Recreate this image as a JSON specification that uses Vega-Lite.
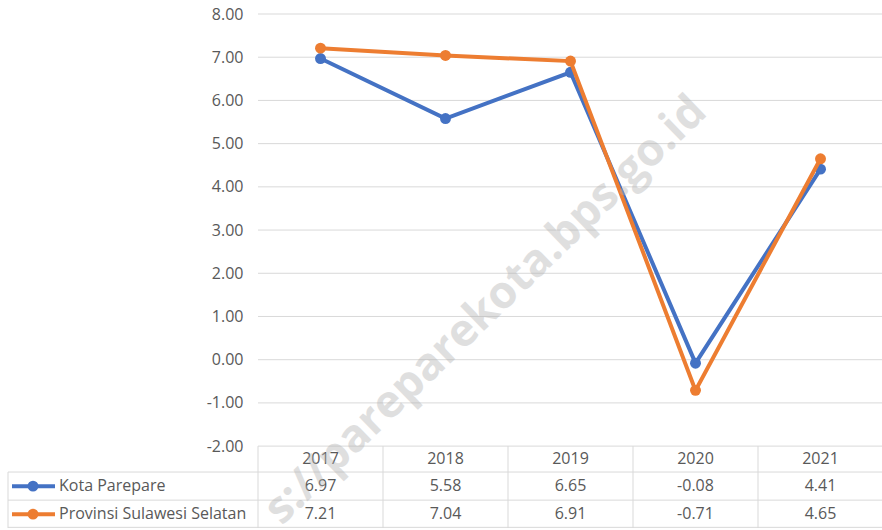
{
  "$schema": "https://vega.github.io/schema/vega-lite/v6.json",
  "width": 875,
  "height": 514,
  "autosize": {"type": "none"},
  "padding": {"left": 8, "top": 14, "right": 0, "bottom": 2},
  "background": "white",
  "config": {
    "view": {"stroke": null},
    "locale": {"number": {"decimal": ".", "thousands": ",", "grouping": [3], "currency": ["", ""], "minus": "-"}},
    "text": {"font": "Open Sans", "fontSize": 16, "color": "#595959"}
  },
  "datasets": {
    "series": [
      {"year": "2017", "series": "Kota Parepare", "value": 6.97},
      {"year": "2018", "series": "Kota Parepare", "value": 5.58},
      {"year": "2019", "series": "Kota Parepare", "value": 6.65},
      {"year": "2020", "series": "Kota Parepare", "value": -0.08},
      {"year": "2021", "series": "Kota Parepare", "value": 4.41},
      {"year": "2017", "series": "Provinsi Sulawesi Selatan", "value": 7.21},
      {"year": "2018", "series": "Provinsi Sulawesi Selatan", "value": 7.04},
      {"year": "2019", "series": "Provinsi Sulawesi Selatan", "value": 6.91},
      {"year": "2020", "series": "Provinsi Sulawesi Selatan", "value": -0.71},
      {"year": "2021", "series": "Provinsi Sulawesi Selatan", "value": 4.65}
    ],
    "grid": [{"g": 8}, {"g": 7}, {"g": 6}, {"g": 5}, {"g": 4}, {"g": 3}, {"g": 2}, {"g": 1}, {"g": 0}, {"g": -1}, {"g": -2}],
    "one": [{}]
  },
  "data": {"name": "series"},
  "encoding": {
    "x": {"field": "year", "type": "nominal", "axis": null,
      "scale": {"type": "band", "domain": ["L1", "L2", "2017", "2018", "2019", "2020", "2021"], "paddingInner": 0, "paddingOuter": 0}}
  },
  "layer": [
    {
      "data": {"name": "grid"},
      "mark": {"type": "rule", "color": "#d9d9d9", "strokeWidth": 1},
      "encoding": {
        "x": {"datum": "2017", "bandPosition": 0},
        "x2": {"datum": "2021", "bandPosition": 1},
        "y": {"field": "g", "type": "quantitative",
          "scale": {"domain": [-3.895, 8], "nice": false, "zero": false},
          "axis": {"orient": "left", "offset": -250, "values": [8, 7, 6, 5, 4, 3, 2, 1, 0, -1, -2], "format": ".2f",
            "ticks": false, "domain": false, "grid": false, "title": null, "labelPadding": 15,
            "labelFont": "Open Sans", "labelFontSize": 16, "labelColor": "#595959"}}
      }
    },
    {
      "data": {"name": "one"},
      "mark": {"type": "rule", "color": "#d9d9d9", "strokeWidth": 1},
      "encoding": {"x": {"datum": "L1", "bandPosition": 0}, "x2": {"datum": "2021", "bandPosition": 1}, "y": {"datum": -2.6}}
    },
    {
      "data": {"name": "one"},
      "mark": {"type": "rule", "color": "#d9d9d9", "strokeWidth": 1},
      "encoding": {"x": {"datum": "L1", "bandPosition": 0}, "x2": {"datum": "2021", "bandPosition": 1}, "y": {"datum": -3.25}}
    },
    {
      "data": {"name": "one"},
      "mark": {"type": "rule", "color": "#d9d9d9", "strokeWidth": 1},
      "encoding": {"x": {"datum": "L1", "bandPosition": 0}, "x2": {"datum": "2021", "bandPosition": 1}, "y": {"datum": -3.88}}
    },
    {
      "data": {"name": "one"},
      "mark": {"type": "rule", "color": "#d9d9d9", "strokeWidth": 1},
      "encoding": {"x": {"datum": "L1", "bandPosition": 0}, "y": {"datum": -2.6}, "y2": {"datum": -3.895}}
    },
    {
      "transform": [{"filter": "datum.series == 'Kota Parepare'"}],
      "mark": {"type": "rule", "color": "#d9d9d9", "strokeWidth": 1},
      "encoding": {"x": {"field": "year", "type": "nominal", "bandPosition": 0}, "y": {"datum": -2}, "y2": {"datum": -3.895}}
    },
    {
      "data": {"name": "one"},
      "mark": {"type": "rule", "color": "#d9d9d9", "strokeWidth": 1},
      "encoding": {"x": {"datum": "2021", "bandPosition": 1}, "y": {"datum": -2}, "y2": {"datum": -3.895}}
    },
    {
      "transform": [{"filter": "datum.series == 'Kota Parepare'"}],
      "mark": {"type": "line", "strokeWidth": 4, "point": {"filled": true, "size": 120, "opacity": 1}},
      "encoding": {
        "y": {"field": "value", "type": "quantitative"},
        "color": {"field": "series", "type": "nominal", "legend": null,
          "scale": {"domain": ["Kota Parepare", "Provinsi Sulawesi Selatan"], "range": ["#4472C4", "#ED7D31"]}}
      }
    },
    {
      "transform": [{"filter": "datum.series == 'Provinsi Sulawesi Selatan'"}],
      "mark": {"type": "line", "strokeWidth": 4, "point": {"filled": true, "size": 120, "opacity": 1}},
      "encoding": {
        "y": {"field": "value", "type": "quantitative"},
        "color": {"field": "series", "type": "nominal", "legend": null}
      }
    },
    {
      "transform": [{"filter": "datum.series == 'Kota Parepare'"}],
      "mark": {"type": "text", "baseline": "middle", "align": "center"},
      "encoding": {"y": {"datum": -2.3}, "text": {"field": "year"}}
    },
    {
      "transform": [{"filter": "datum.series == 'Kota Parepare'"}],
      "mark": {"type": "text", "baseline": "middle", "align": "center"},
      "encoding": {"y": {"datum": -2.926}, "text": {"field": "value", "type": "quantitative", "format": ".2f"}}
    },
    {
      "transform": [{"filter": "datum.series == 'Provinsi Sulawesi Selatan'"}],
      "mark": {"type": "text", "baseline": "middle", "align": "center"},
      "encoding": {"y": {"datum": -3.574}, "text": {"field": "value", "type": "quantitative", "format": ".2f"}}
    },
    {
      "data": {"name": "one"},
      "mark": {"type": "rule", "color": "#4472C4", "strokeWidth": 4},
      "encoding": {"x": {"datum": "L1", "bandPosition": 0.032}, "x2": {"datum": "L1", "bandPosition": 0.376}, "y": {"datum": -2.926}}
    },
    {
      "data": {"name": "one"},
      "mark": {"type": "point", "filled": true, "size": 120, "opacity": 1, "color": "#4472C4"},
      "encoding": {"x": {"datum": "L1", "bandPosition": 0.2}, "y": {"datum": -2.926}}
    },
    {
      "data": {"name": "one"},
      "mark": {"type": "rule", "color": "#ED7D31", "strokeWidth": 4},
      "encoding": {"x": {"datum": "L1", "bandPosition": 0.032}, "x2": {"datum": "L1", "bandPosition": 0.376}, "y": {"datum": -3.574}}
    },
    {
      "data": {"name": "one"},
      "mark": {"type": "point", "filled": true, "size": 120, "opacity": 1, "color": "#ED7D31"},
      "encoding": {"x": {"datum": "L1", "bandPosition": 0.2}, "y": {"datum": -3.574}}
    },
    {
      "mark": {"type": "text", "baseline": "middle", "align": "left"},
      "encoding": {"x": {"datum": "L1", "bandPosition": 0.408}, "y": {"datum": -2.926}, "text": {"field": "series"}},
      "data": {"values": [{"series": "Kota Parepare"}]}
    },
    {
      "mark": {"type": "text", "baseline": "middle", "align": "left"},
      "encoding": {"x": {"datum": "L1", "bandPosition": 0.408}, "y": {"datum": -3.574}, "text": {"field": "series"}},
      "data": {"values": [{"series": "Provinsi Sulawesi Selatan"}]}
    },
    {
      "data": {"values": [{"wm": "s://pareparekota.bps.go.id"}]},
      "mark": {"type": "text", "align": "center", "baseline": "middle", "angle": -44, "fontSize": 45, "fontWeight": "bold", "font": "Open Sans", "color": "#b0b0b0", "opacity": 0.4},
      "encoding": {"x": {"datum": "2018", "bandPosition": 0.82}, "y": {"datum": 1.15}, "text": {"field": "wm"}}
    }
  ]
}
